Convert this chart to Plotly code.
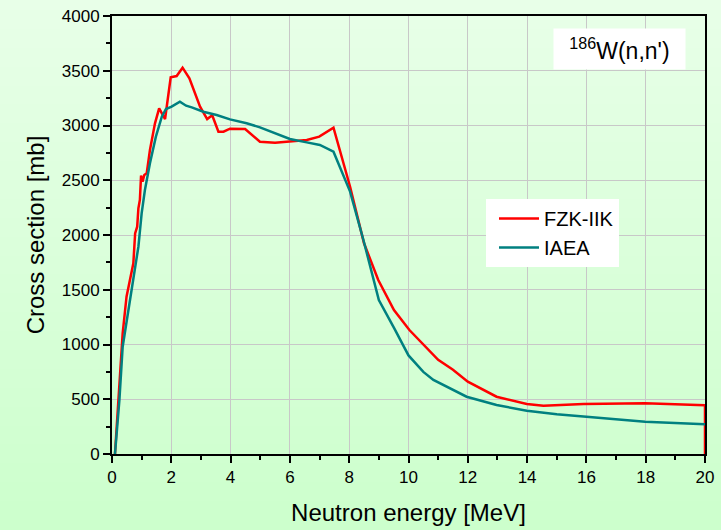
import base64, struct, zlib
import plotly.graph_objects as go

# FZK-IIK data
fzk_x = [0.1, 0.25, 0.36, 0.49, 0.61, 0.72, 0.78, 0.85, 0.89, 0.94, 0.98, 1.03, 1.09, 1.17, 1.28, 1.39, 1.45,
         1.59, 1.68, 1.79, 1.98, 2.18, 2.38, 2.61, 2.97, 3.21, 3.38, 3.59, 3.76, 3.98, 4.49, 4.99, 5.5, 6.0,
         6.57, 6.99, 7.47, 8.03, 8.5, 8.98, 9.51, 10.03, 11.0, 11.5, 12.0, 12.97, 13.99, 14.55, 15.9, 17.98, 20.0, 20.0]
fzk_y = [0, 600, 1102, 1437, 1589, 1741, 2015, 2076, 2244, 2320, 2542, 2487, 2548, 2563, 2776, 2959, 3020,
         3157, 3111, 3059, 3440, 3452, 3528, 3430, 3172, 3059, 3093, 2944, 2944, 2971, 2968, 2852, 2843, 2855,
         2867, 2898, 2980, 2441, 1924, 1589, 1315, 1132, 860, 770, 660, 523, 457, 441, 457, 463, 445, 0]

# IAEA data
iaea_x = [0.1, 0.25, 0.36, 0.61, 0.89, 1.0, 1.11, 1.28, 1.48, 1.68, 1.82, 2.01, 2.29, 2.5, 2.69, 3.08, 3.53,
          3.98, 4.54, 4.99, 5.44, 6.0, 6.57, 7.01, 7.47, 8.03, 8.48, 9.0, 9.52, 10.0, 10.5, 10.84, 11.96,
          12.97, 13.99, 15.0, 16.0, 17.98, 20.0]
iaea_y = [0, 493, 980, 1406, 1893, 2198, 2411, 2655, 2898, 3081, 3151, 3172, 3218, 3181, 3166, 3126, 3096,
          3056, 3020, 2983, 2934, 2877, 2846, 2822, 2761, 2396, 1954, 1406, 1148, 900, 750, 676, 523,
          447, 396, 362, 341, 295, 271]

x_ticks = list(range(0, 21, 2))
y_ticks = list(range(0, 4001, 500))


def gradient_png(h, top, bottom):
    rows = b""
    for i in range(h):
        t = i / (h - 1)
        c = bytes(int(round(top[k] + (bottom[k] - top[k]) * t)) for k in range(3))
        rows += b"\x00" + c
    def chunk(tag, data):
        return struct.pack(">I", len(data)) + tag + data + struct.pack(">I", zlib.crc32(tag + data) & 0xffffffff)
    png = b"\x89PNG\r\n\x1a\n" + chunk(b"IHDR", struct.pack(">IIBBBBB", 1, h, 8, 2, 0, 0, 0))
    png += chunk(b"IDAT", zlib.compress(rows)) + chunk(b"IEND", b"")
    return "data:image/png;base64," + base64.b64encode(png).decode()


FONT = "Liberation Sans, Arial, sans-serif"
W, H = 721, 530
L, R, T, B = 112, 16, 16, 76
pw, ph = W - L - R, H - T - B

fig = go.Figure()
fig.add_trace(go.Scatter(x=fzk_x, y=fzk_y, mode="lines", name="FZK-IIK",
                         line=dict(color="#FF0000", width=2.5)))
fig.add_trace(go.Scatter(x=iaea_x, y=iaea_y, mode="lines", name="IAEA",
                         line=dict(color="#008080", width=2.5)))

fig.add_layout_image(dict(source=gradient_png(H, (232, 255, 232), (204, 255, 204)),
                          xref="paper", yref="paper", x=-L / pw, y=1 + T / ph,
                          sizex=W / pw, sizey=H / ph, sizing="stretch",
                          xanchor="left", yanchor="top", layer="below"))

axis_common = dict(showline=True, linecolor="black", linewidth=2, mirror=True,
                   ticks="outside", ticklen=7, tickwidth=2, tickcolor="black",
                   showgrid=True, gridcolor="#C8C8C8", gridwidth=1, zeroline=False,
                   automargin=False,
                   tickfont=dict(family=FONT, size=17, color="black"))

fig.update_xaxes(range=[0, 20], tickvals=x_ticks,
                 minor=dict(dtick=1, ticks="outside", ticklen=4, tickwidth=2, tickcolor="black", showgrid=False),
                 title=dict(text="Neutron energy [MeV]", font=dict(family=FONT, size=24, color="black"),
                            standoff=18),
                 **axis_common)
fig.update_yaxes(range=[0, 4000], tickvals=y_ticks,
                 minor=dict(dtick=250, ticks="outside", ticklen=4, tickwidth=2, tickcolor="black", showgrid=False),
                 title=dict(text="Cross section [mb]", font=dict(family=FONT, size=24, color="black"),
                            standoff=10),
                 **axis_common)

fig.add_annotation(xref="paper", yref="paper", x=(619.5 - L) / pw, y=1 - (48.5 - T) / ph,
                   text="<sup>186</sup>W(n,n')", showarrow=False,
                   font=dict(family=FONT, size=23, color="black"),
                   bgcolor="white", width=129, height=38, xanchor="center", yanchor="middle")

fig.update_layout(
    width=W, height=H,
    margin=dict(l=L, r=R, t=T, b=B),
    paper_bgcolor="rgba(0,0,0,0)",
    plot_bgcolor="rgba(0,0,0,0)",
    showlegend=True,
    legend=dict(x=(486 - L) / pw, y=1 - (199 - T) / ph, xanchor="left", yanchor="top",
                bgcolor="white", font=dict(family=FONT, size=20, color="black"),
                itemwidth=40, tracegroupgap=0, indentation=8),
)

fig.write_html("out.html")
